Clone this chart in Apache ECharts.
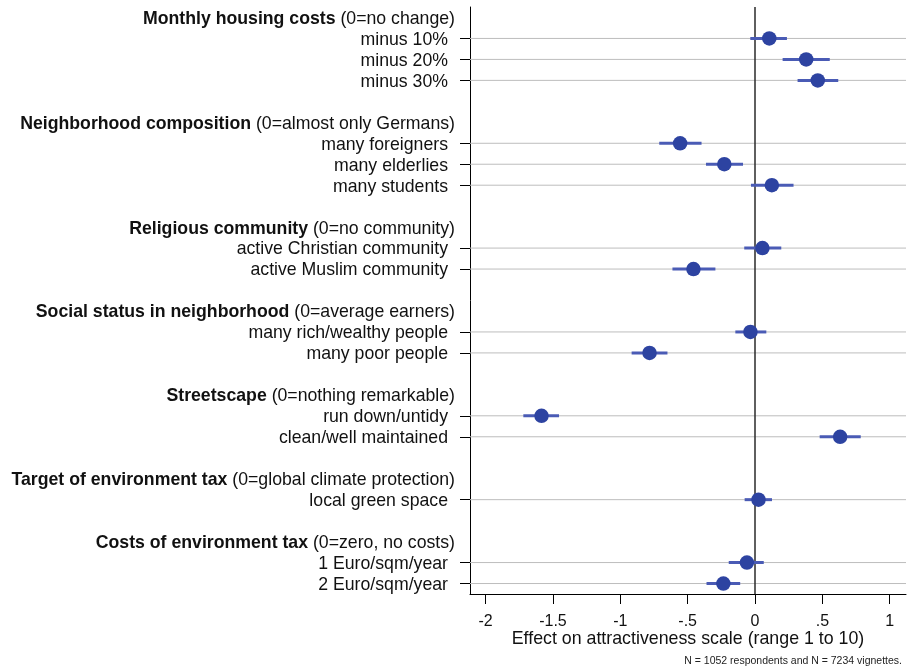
<!DOCTYPE html>
<html>
<head>
<meta charset="utf-8">
<script src="https://cdn.jsdelivr.net/npm/echarts@6/dist/echarts.min.js"></script>
<style>
html,body{margin:0;padding:0;background:#fff;}
#c{width:907px;height:668px;}
</style>
</head>
<body>
<div id="c"></div>
<script>
// Row labels; header rows use "Bold part|(reference)"; '' = spacer row
const categories = [
  'Monthly housing costs|(0=no change)',
  'minus 10%', 'minus 20%', 'minus 30%', '',
  'Neighborhood composition|(0=almost only Germans)',
  'many foreigners', 'many elderlies', 'many students', '',
  'Religious community|(0=no community)',
  'active Christian community', 'active Muslim community', '',
  'Social status in neighborhood|(0=average earners)',
  'many rich/wealthy people', 'many poor people', '',
  'Streetscape|(0=nothing remarkable)',
  'run down/untidy', 'clean/well maintained', '',
  'Target of environment tax|(0=global climate protection)',
  'local green space', '',
  'Costs of environment tax|(0=zero, no costs)',
  '1 Euro/sqm/year', '2 Euro/sqm/year'
];
const estimates = [
  null, 0.106, 0.38, 0.466, null,
  null, -0.556, -0.228, 0.125, null,
  null, 0.055, -0.457, null,
  null, -0.034, -0.783, null,
  null, -1.585, 0.632, null,
  null, 0.026, null,
  null, -0.06, -0.235
];
const lower = [
  null, -0.035, 0.205, 0.316, null,
  null, -0.711, -0.364, -0.03, null,
  null, -0.08, -0.613, null,
  null, -0.146, -0.916, null,
  null, -1.72, 0.48, null,
  null, -0.077, null,
  null, -0.195, -0.36
];
const upper = [
  null, 0.237, 0.555, 0.618, null,
  null, -0.397, -0.089, 0.286, null,
  null, 0.195, -0.294, null,
  null, 0.084, -0.65, null,
  null, -1.455, 0.785, null,
  null, 0.126, null,
  null, 0.065, -0.11
];
const xTicks = [-2, -1.5, -1, -0.5, 0, 0.5, 1];
const xMin = -2.116, xMax = 1.121;

const isData = (i) => estimates[i] !== null;
const ciData = [], ptData = [], gridData = [];
categories.forEach((c, i) => {
  if (isData(i)) {
    ciData.push([lower[i], upper[i], i]);
    ptData.push([estimates[i], i]);
    gridData.push([xMin, xMax, i]);
  }
});

const chart = echarts.init(document.getElementById('c'), null, {renderer: 'canvas'});
const FONT = '"Liberation Sans", Arial, Helvetica, sans-serif';
const LS = 17.7;

function segItem(color, width) {
  return function (params, api) {
    const a = api.coord([api.value(0), api.value(2)]);
    const b = api.coord([api.value(1), api.value(2)]);
    return {
      type: 'line',
      shape: {x1: a[0], y1: a[1], x2: b[0], y2: b[1]},
      style: {stroke: color, lineWidth: width}
    };
  };
}

chart.setOption({
  animation: false,
  backgroundColor: '#fff',
  grid: {left: 470, right: 1, top: 7, bottom: 74},
  xAxis: {
    type: 'value',
    min: xMin, max: xMax,
    axisLine: {show: true, onZero: false, lineStyle: {color: '#000', width: 1}},
    axisTick: {show: true, length: 10, customValues: xTicks, lineStyle: {color: '#000', width: 1}},
    axisLabel: {
      customValues: xTicks, margin: 20, color: '#111', fontFamily: FONT, fontSize: 16,
      formatter: (v) => {
        let s = String(Math.round(v * 10) / 10);
        s = s.replace(/^(-?)0\./, '$1.');
        return s;
      }
    },
    splitLine: {show: false},
    name: 'Effect on attractiveness scale (range 1 to 10)',
    nameLocation: 'middle', nameGap: 36, nameMoveOverlap: false,
    nameTextStyle: {color: '#111', fontFamily: FONT, fontSize: 17.8}
  },
  yAxis: {
    type: 'category',
    inverse: true,
    data: categories,
    boundaryGap: true,
    axisLine: {show: true, onZero: false, lineStyle: {color: '#000', width: 1}},
    axisTick: {
      show: true, length: 10, alignWithLabel: true,
      interval: (idx) => isData(idx),
      lineStyle: {color: '#000', width: 1}
    },
    splitLine: {show: false},
    axisLabel: {
      interval: 0, margin: 15, color: '#111', fontFamily: FONT, fontSize: LS,
      formatter: (v) => {
        if (v === '') return '';
        if (v.indexOf('|') >= 0) {
          const p = v.split('|');
          return '{b|' + p[0] + '}{r| ' + p[1] + '}';
        }
        return '{d|' + v + '}';
      },
      rich: {
        b: {fontWeight: 'bold', fontFamily: FONT, fontSize: LS, color: '#111', padding: [3, 0, 0, 0]},
        r: {fontFamily: FONT, fontSize: LS, color: '#111', padding: [3, 0, 0, 0]},
        d: {fontFamily: FONT, fontSize: LS, color: '#111', padding: [3, 7, 0, 0]}
      }
    }
  },
  series: [
    {
      type: 'custom',
      name: 'grid',
      data: gridData,
      encode: {x: [0, 1], y: 2},
      renderItem: segItem('#bdbdbd', 1),
      z: 1,
      silent: true
    },
    {
      type: 'custom',
      name: 'ci',
      data: ciData,
      encode: {x: [0, 1], y: 2},
      renderItem: segItem('#4a5bb5', 3),
      z: 4,
      silent: true
    },
    {
      type: 'scatter',
      name: 'est',
      data: ptData,
      symbol: 'circle',
      symbolSize: 14.5,
      itemStyle: {color: '#2d43a1', opacity: 1},
      z: 5,
      markLine: {
        silent: true,
        symbol: ['none', 'none'],
        label: {show: false},
        lineStyle: {color: '#2a2a2a', width: 1.5, type: 'solid'},
        data: [{xAxis: 0}],
        z: 3
      }
    }
  ],
  graphic: [{
    type: 'text',
    right: 5, top: 656,
    style: {
      text: 'N = 1052 respondents and N = 7234 vignettes.',
      font: '10.5px ' + FONT, fill: '#222'
    }
  }]
});
</script>
</body>
</html>
